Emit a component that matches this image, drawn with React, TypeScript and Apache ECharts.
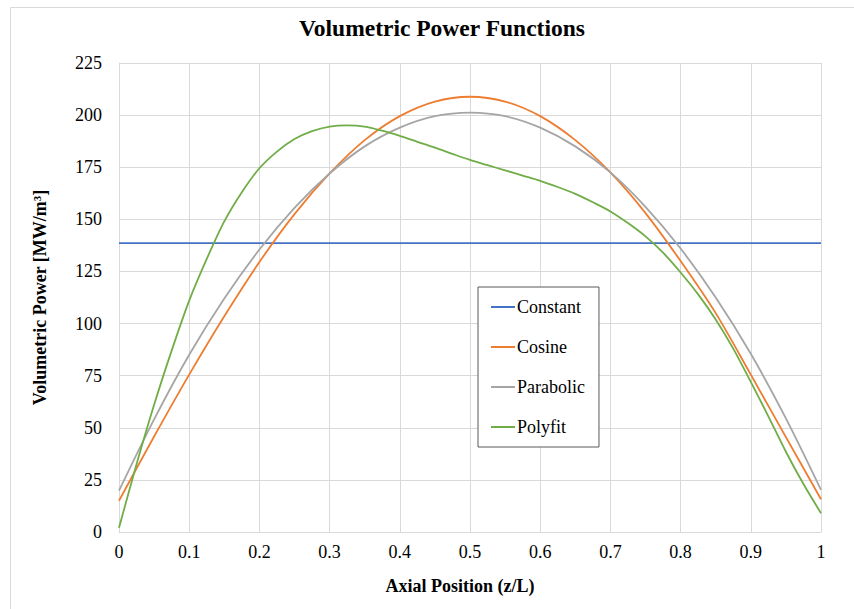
import React, { useEffect, useRef } from "react";
import * as echarts from "echarts";

const SERIES_NAMES = ["Constant", "Cosine", "Parabolic", "Polyfit"];
const COLORS = ["#4472C4", "#ED7D31", "#A5A5A5", "#70AD47"];

const X_ENDS = [0, 1];
const CONSTANT_Y = [138.6, 138.6];

const X_STEP05 = [0, 0.05, 0.1, 0.15, 0.2, 0.25, 0.3, 0.35, 0.4, 0.45, 0.5, 0.55, 0.6, 0.65, 0.7, 0.75, 0.8, 0.85, 0.9, 0.95, 1];
const COSINE_Y = [15, 45.8, 75.5, 103.5, 129.5, 152.5, 172, 188, 199.5, 206.5, 208.8, 206.5, 199.5, 188, 172.5, 153, 130, 105, 75.5, 45.5, 15.7];
const PARABOLIC_Y = [19.8, 54, 85, 112, 135.5, 155.5, 172, 185, 194, 199.5, 201.2, 199.5, 194, 185, 172.5, 156, 136, 112.5, 85.5, 54.5, 20.2];

const POLY_X = [
  0, 0.025, 0.05, 0.075, 0.1, 0.125, 0.15, 0.175, 0.2, 0.225, 0.25, 0.275, 0.3, 0.325, 0.35, 0.375, 0.4, 0.425, 0.45, 0.475, 0.5,
  0.525, 0.55, 0.575, 0.6, 0.625, 0.65, 0.675, 0.7, 0.725, 0.75, 0.775, 0.8, 0.825, 0.85, 0.875, 0.9, 0.925, 0.95, 0.975, 1,
];
const POLY_Y = [
  2, 32.5, 61, 87, 111, 131, 149, 163, 174.5, 182.5, 188.5, 192.3, 194.5, 195.1, 194.5, 192.5, 190, 187.2, 184.4, 181.4, 178.5,
  176, 173.5, 171, 168.5, 165.5, 162.2, 158.2, 153.8, 148.2, 141.8, 134, 124.5, 114, 102, 88, 72, 55.5, 38.5, 23, 9,
];

const X_TICKS = { min: 0, max: 1, interval: 0.1 };
const Y_TICKS = { min: 0, max: 225, interval: 25 };

const FONT = "'Liberation Serif', 'Times New Roman', serif";

function pairs(xs: number[], ys: number[]) {
  return xs.map((x, i) => [x, ys[i]]);
}

export default function App() {
  const ref = useRef<HTMLDivElement>(null);
  useEffect(() => {
    document.body.style.margin = "0";
    const chart = echarts.init(ref.current!, undefined, { renderer: "svg" });
    const datasets = [
      pairs(X_ENDS, CONSTANT_Y),
      pairs(X_STEP05, COSINE_Y),
      pairs(X_STEP05, PARABOLIC_Y),
      pairs(POLY_X, POLY_Y),
    ];
    chart.setOption({
      animation: false,
      backgroundColor: "#ffffff",
      textStyle: { fontFamily: FONT },
      graphic: [
        {
          type: "rect",
          shape: { x: 10.5, y: 7.5, width: 900, height: 700 },
          style: { fill: "none", stroke: "#d9d9d9", lineWidth: 1 },
          silent: true,
        },
      ],
      title: {
        text: "Volumetric Power Functions",
        left: 299,
        top: 16,
        padding: 0,
        textStyle: { fontFamily: FONT, fontSize: 23.5, fontWeight: "bold", color: "#000" },
      },
      grid: { left: 119, right: 33, top: 63, bottom: 77, containLabel: false },
      legend: {
        orient: "vertical",
        left: 478,
        top: 287,
        padding: [11, 14, 11, 12],
        itemWidth: 24,
        itemHeight: 14,
        itemGap: 22,
        borderColor: "#595959",
        borderWidth: 1,
        backgroundColor: "#fff",
        itemStyle: { opacity: 0 },
        data: SERIES_NAMES,
        textStyle: { fontFamily: FONT, fontSize: 18, lineHeight: 18, color: "#000", padding: [0, 0, 0, -3] },
      },
      xAxis: {
        type: "value",
        min: X_TICKS.min,
        max: X_TICKS.max,
        interval: X_TICKS.interval,
        name: "Axial Position (z/L)",
        nameLocation: "middle",
        nameGap: 45,
        nameTextStyle: { fontFamily: FONT, fontSize: 18, fontWeight: "bold", color: "#000", padding: [0, 20, 0, 0] },
        axisLine: { show: true, lineStyle: { color: "#d9d9d9" } },
        axisTick: { show: false },
        axisLabel: {
          fontFamily: FONT,
          fontSize: 18,
          color: "#000",
          margin: 11,
          formatter: (v: number) => String(Math.round(v * 10) / 10),
        },
        splitLine: { show: true, lineStyle: { color: "#d9d9d9" } },
      },
      yAxis: {
        type: "value",
        min: Y_TICKS.min,
        max: Y_TICKS.max,
        interval: Y_TICKS.interval,
        name: "Volumetric Power [MW/m³]",
        nameLocation: "middle",
        nameGap: 70,
        nameTextStyle: { fontFamily: FONT, fontSize: 18, fontWeight: "bold", color: "#000" },
        axisLine: { show: true, lineStyle: { color: "#d9d9d9" } },
        axisTick: { show: false },
        axisLabel: { fontFamily: FONT, fontSize: 18, color: "#000", margin: 17 },
        splitLine: { show: true, lineStyle: { color: "#d9d9d9" } },
      },
      series: SERIES_NAMES.map((name, i) => ({
        name,
        type: "line",
        data: datasets[i],
        symbol: "none",
        smooth: i === 0 ? false : 0.3,
        color: COLORS[i],
        lineStyle: { color: COLORS[i], width: 1.8 },
      })),
    });
    return () => chart.dispose();
  }, []);
  return <div ref={ref} style={{ width: 854, height: 609 }} />;
}
